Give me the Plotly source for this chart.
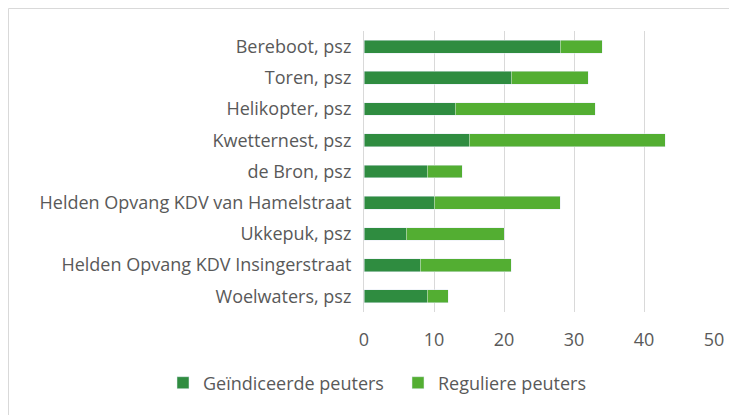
# import necessary libraries
import plotly.graph_objects as go

# locations, listed from top to bottom as in the chart
locaties = ['Bereboot, psz', 'Toren, psz', 'Helikopter, psz', 'Kwetternest, psz', 'de Bron, psz',
            'Helden Opvang KDV van Hamelstraat', 'Ukkepuk, psz',
            'Helden Opvang KDV Insingerstraat', 'Woelwaters, psz']

# number of children per group
geindiceerd = [28, 21, 13, 15, 9, 10, 6, 8, 9]
regulier = [6, 11, 20, 28, 5, 18, 14, 13, 3]

x_ticks = [0, 10, 20, 30, 40, 50]

fig = go.Figure()
fig.add_trace(go.Bar(y=locaties, x=geindiceerd, orientation='h',
                     name='Geïndiceerde peuters', marker_color='#2F8C40'))
fig.add_trace(go.Bar(y=locaties, x=regulier, orientation='h',
                     name='Reguliere peuters', marker_color='#53AE32'))

font_main = dict(family='Open Sans, Noto Sans, sans-serif', size=18, color='#595959')

# note: the page body adds 8px around the figure, margins take that into account
fig.update_layout(
    barmode='stack',
    bargap=0.59,
    width=737, height=415,
    margin=dict(l=356, r=31, t=23, b=111, autoexpand=False),
    paper_bgcolor='white', plot_bgcolor='white',
    font=font_main,
    legend=dict(orientation='h', x=(155 - 356) / 350, y=(304 - 375) / 281,
                xanchor='left', yanchor='middle',
                traceorder='normal', font=font_main, itemwidth=30,
                entrywidth=190, entrywidthmode='pixels'),
    xaxis=dict(range=[0, 50], tickvals=x_ticks, showgrid=True, gridcolor='#D9D9D9',
               gridwidth=1, zeroline=False, showline=False, ticks='',
               ticklabelstandoff=15, fixedrange=True),
    yaxis=dict(autorange='reversed', showgrid=False, showline=True, linecolor='#D9D9D9',
               linewidth=1, ticks='', ticklabelstandoff=8, fixedrange=True),
)

# outer chart border (cut off at right and bottom in the reference)
fig.add_shape(type='rect', xref='paper', yref='paper',
              x0=(0.5 - 356) / 350, x1=(745 - 356) / 350,
              y0=(304 - 425) / 281, y1=(304 - 0.5) / 281,
              line=dict(color='#D9D9D9', width=1), layer='below')

fig.write_html("out.html")
